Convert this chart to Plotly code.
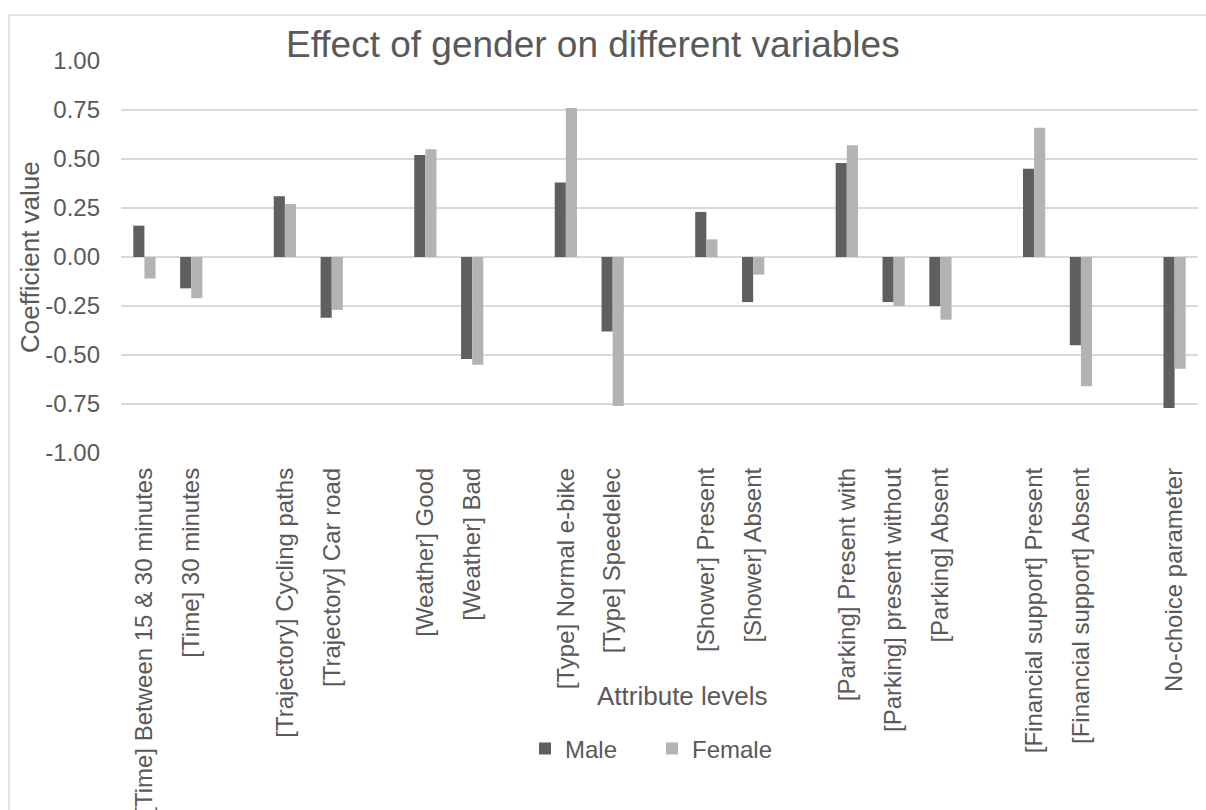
import plotly.graph_objects as go

# ---- data ----
labels = [
    "[Time] Between 15 & 30 minutes", "[Time] 30 minutes",
    "[Trajectory] Cycling paths", "[Trajectory] Car road",
    "[Weather] Good", "[Weather] Bad",
    "[Type] Normal e-bike", "[Type] Speedelec",
    "[Shower] Present", "[Shower] Absent",
    "[Parking] Present with", "[Parking] present without", "[Parking] Absent",
    "[Financial support] Present", "[Financial support] Absent",
    "No-choice parameter",
]
male = [0.16, -0.16, 0.31, -0.31, 0.52, -0.52, 0.38, -0.38,
        0.23, -0.23, 0.48, -0.23, -0.25, 0.45, -0.45, -0.77]
female = [-0.11, -0.21, 0.27, -0.27, 0.55, -0.55, 0.76, -0.76,
          0.09, -0.09, 0.57, -0.25, -0.32, 0.66, -0.66, -0.57]
# category order including empty spacer slots between attribute groups
category_order = [
    labels[0], labels[1], " ",
    labels[2], labels[3], "  ",
    labels[4], labels[5], "   ",
    labels[6], labels[7], "    ",
    labels[8], labels[9], "     ",
    labels[10], labels[11], labels[12], "      ",
    labels[13], labels[14], "       ",
    labels[15], "        ",
]
y_ticks = [-1.0, -0.75, -0.5, -0.25, 0.0, 0.25, 0.5, 0.75, 1.0]
y_ticktext = ["-1.00", "-0.75", "-0.50", "-0.25", "0.00", "0.25", "0.50", "0.75", "1.00"]

TXT = "#595959"
FONT = "Liberation Sans, Arial, sans-serif"

W, H = 1206, 810
L, R, T, B = 121, 8, 61, 357
PW, PH = W - L - R, H - T - B


def px(x):
    return (x - L) / PW


def py(y):
    return (H - B - y) / PH


fig = go.Figure()
fig.add_trace(go.Bar(x=labels, y=male, name="Male", marker=dict(color="#5f5f5f", line=dict(width=0))))
fig.add_trace(go.Bar(x=labels, y=female, name="Female", marker=dict(color="#b3b3b3", line=dict(width=0))))

fig.update_layout(
    width=W, height=H,
    margin=dict(l=L, r=R, t=T, b=B, autoexpand=False),
    paper_bgcolor="white", plot_bgcolor="white",
    font=dict(family=FONT, color=TXT, size=24),
    barmode="group", bargap=0.525, bargroupgap=0,
    showlegend=True,
    legend=dict(orientation="h", x=px(525), y=py(749), xanchor="left", yanchor="middle",
                font=dict(size=24, color=TXT), entrywidth=82, bgcolor="rgba(0,0,0,0)",
                itemclick=False),
    xaxis=dict(
        type="category", categoryorder="array", categoryarray=category_order,
        tickangle=-90, showgrid=False, showline=False, zeroline=False, ticks="",
        ticklabelstandoff=9,
        tickfont=dict(size=24, color=TXT), automargin=False,
    ),
    yaxis=dict(
        range=[-1.0, 1.0], tickvals=y_ticks, ticktext=y_ticktext,
        showgrid=True, gridcolor="#d9d9d9", gridwidth=1.5,
        zeroline=True, zerolinecolor="#d9d9d9", zerolinewidth=1.5,
        showline=False, ticks="", ticklabelstandoff=20,
        tickfont=dict(size=24, color=TXT), automargin=False,
    ),
    annotations=[
        dict(text="Effect of gender on different variables", x=px(592.5), y=py(44),
             xref="paper", yref="paper", showarrow=False, xanchor="center", yanchor="middle",
             font=dict(size=37, color=TXT)),
        dict(text="Coefficient value", x=px(30), y=py(257), textangle=-90,
             xref="paper", yref="paper", showarrow=False, xanchor="center", yanchor="middle",
             font=dict(size=26, color=TXT)),
        dict(text="Attribute levels", x=px(682.5), y=py(696),
             xref="paper", yref="paper", showarrow=False, xanchor="center", yanchor="middle",
             font=dict(size=26, color=TXT)),
    ],
    shapes=[
        dict(type="rect", xref="paper", yref="paper", x0=px(9), y0=py(830), x1=px(1230), y1=py(15),
             line=dict(color="#d9d9d9", width=1.5), fillcolor="rgba(0,0,0,0)", layer="below"),
    ],
)

fig.write_html(
    "out.html",
    config={"displayModeBar": False},
    post_script="document.body.style.margin='0';document.body.style.overflow='hidden';",
)
